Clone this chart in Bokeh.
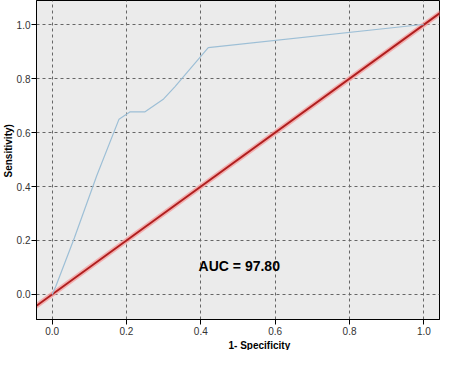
from bokeh.plotting import figure
from bokeh.models import Range1d, Label, FixedTicker, NumeralTickFormatter, Title
from bokeh.embed import file_html
from bokeh.resources import INLINE

# ROC curve (1 - specificity, sensitivity)
fpr = [0.0, 0.01, 0.06, 0.12, 0.18, 0.21, 0.25, 0.30, 0.33, 0.42, 0.99, 1.0]
tpr = [0.0, 0.03, 0.21, 0.44, 0.65, 0.677, 0.677, 0.725, 0.77, 0.915, 1.0, 1.0]
diag = [-0.05, 1.05]
ticks = [0.0, 0.2, 0.4, 0.6, 0.8, 1.0]
auc_text = "AUC =  97.80"
x_title = "1- Specificity"
y_title = "Sensitivity)"

p = figure(width=451, height=350, output_backend="svg", toolbar_location=None,
           x_range=Range1d(-0.042, 1.042), y_range=Range1d(-0.093, 1.09),
           min_border_left=0, min_border_right=12, min_border_top=0,
           min_border_bottom=0)
p.background_fill_color = "#ebebeb"
p.border_fill_color = "white"
p.outline_line_color = "black"
p.outline_line_width = 1

for ax in (p.xaxis[0], p.yaxis[0]):
    ax.ticker = FixedTicker(ticks=ticks)
    ax.formatter = NumeralTickFormatter(format="0.0")
    ax.minor_tick_line_color = None
    ax.major_tick_in = 0
    ax.major_tick_out = 5
    ax.major_label_text_font = "Arial"
    ax.major_label_text_font_size = "10px"
    ax.major_label_text_color = "#333333"
    ax.axis_line_color = "black"
    ax.major_tick_line_color = "black"
p.xaxis.major_label_standoff = 2
p.yaxis.major_label_standoff = 1

p.grid.grid_line_color = "#666666"
p.grid.grid_line_dash = "3 3"
p.grid.grid_line_width = 1
p.xgrid.ticker = FixedTicker(ticks=ticks)
p.ygrid.ticker = FixedTicker(ticks=ticks)

p.line(diag, diag, line_color="#f4a0a0", line_width=5, line_alpha=0.8)
p.line(diag, diag, line_color="#b01e1e", line_width=2)
p.line(fpr, tpr, line_color="#9dbfd6", line_width=1.2)

p.add_layout(Label(x=0.394, y=0.105, text=auc_text, text_font="Arial",
                   text_font_size="14px", text_font_style="bold",
                   text_color="black", text_baseline="middle"))

p.add_layout(Title(text=x_title, align="left", offset=192, standoff=0,
                   text_font="Arial", text_font_size="10px", text_font_style="bold",
                   text_color="black"), "below")
p.add_layout(Title(text=y_title, align="left", offset=142, standoff=0,
                   text_font="Arial", text_font_size="10px", text_font_style="bold",
                   text_color="black"), "left")

open("out.html", "w").write(file_html(p, INLINE))
